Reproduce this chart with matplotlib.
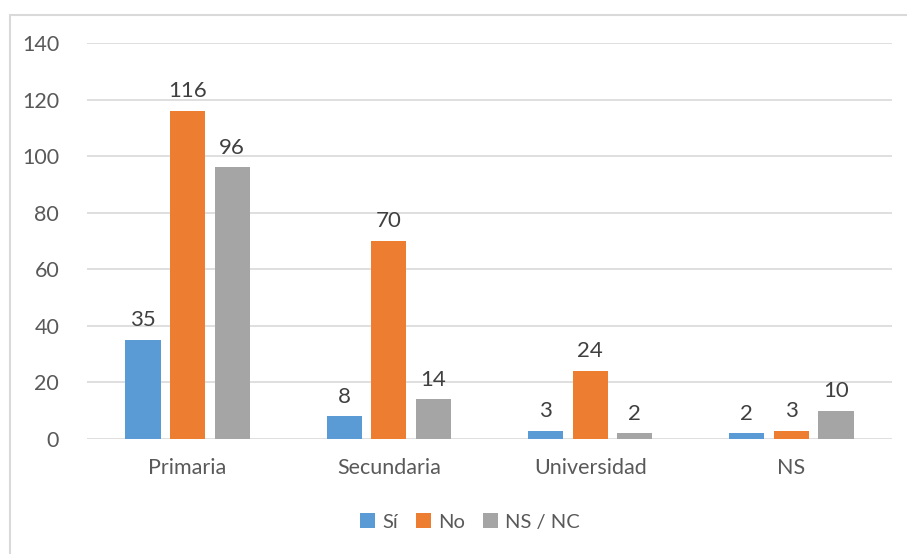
import numpy as np
import matplotlib.pyplot as plt
from matplotlib.patches import Rectangle

categories = ["Primaria", "Secundaria", "Universidad", "NS"]
si = [35, 8, 3, 2]
no = [116, 70, 24, 3]
nsnc = [96, 14, 2, 10]
series_names = ["Sí", "No", "NS / NC"]

colors = ["#5B9BD5", "#ED7D31", "#A5A5A5"]
text_color = "#595959"

plt.rcParams['font.family'] = ['Lato', 'DejaVu Sans']

fig = plt.figure(figsize=(9.07, 5.54), dpi=100)
ax = fig.add_axes([0.0959, 0.2076, 0.8876, 0.7148])

# border around the chart area
fig.patches.append(Rectangle((10 / 907, -0.05), 1.2, 1 - 14.5 / 554 + 0.05,
                             transform=fig.transFigure, fill=False,
                             edgecolor="#D9D9D9", linewidth=1.5))

x = np.arange(len(categories))
width = 0.175
offset = 0.222
for i, vals in enumerate([si, no, nsnc]):
    pos = x + (i - 1) * offset
    ax.bar(pos, vals, width, color=colors[i], label=series_names[i], zorder=3)
    for p, v in zip(pos, vals):
        ax.annotate(str(v), (p, v), xytext=(0, 7), textcoords="offset points",
                    ha="center", va="bottom", fontsize=16, color="#404040")

ax.set_xlim(-0.5, 3.5)
ax.set_ylim(0, 140)
ax.set_yticks(range(0, 141, 20))
ax.set_xticks(x)
ax.set_xticklabels(categories)
ax.yaxis.grid(True, color="#D9D9D9", linewidth=1.2, zorder=0)
ax.tick_params(axis="both", length=0, labelsize=15.5, colors=text_color)
ax.tick_params(axis="x", pad=14)
ax.tick_params(axis="y", pad=20)
for s in ax.spines.values():
    s.set_visible(False)

ax.legend(loc="center", bbox_to_anchor=(0.476, -0.21), ncol=3, frameon=False,
          fontsize=14.5, labelcolor=text_color, handlelength=0.75,
          handleheight=0.75, handletextpad=0.35, columnspacing=0.9)

fig.savefig("out.png", dpi=100)
